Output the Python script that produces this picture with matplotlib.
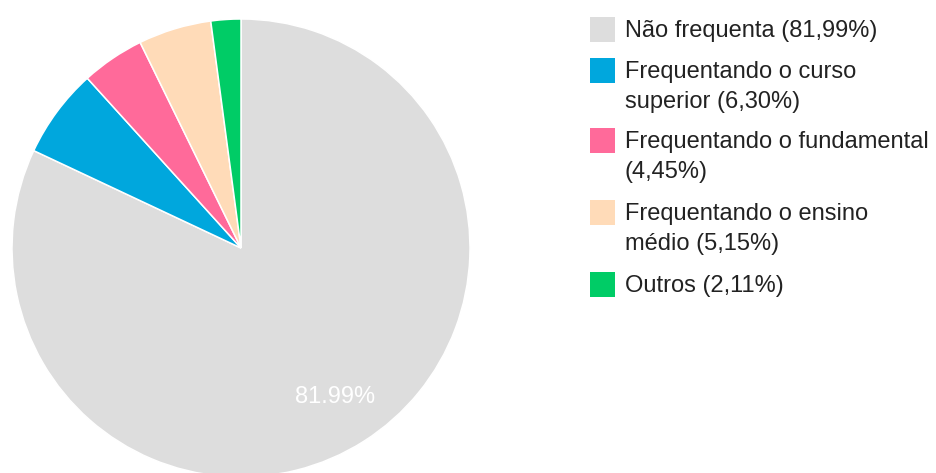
import matplotlib.pyplot as plt
from matplotlib.patches import Rectangle

plt.rcParams['font.family'] = ['Liberation Sans', 'DejaVu Sans']

categories = ['Não frequenta', 'Frequentando o curso superior', 'Frequentando o fundamental',
              'Frequentando o ensino médio', 'Outros']
values = [81.99, 6.30, 4.45, 5.15, 2.11]
legend_lines = [['Não frequenta (81,99%)'],
                ['Frequentando o curso', 'superior (6,30%)'],
                ['Frequentando o fundamental', '(4,45%)'],
                ['Frequentando o ensino', 'médio (5,15%)'],
                ['Outros (2,11%)']]
colors = ['#dddddd', '#00a7dd', '#ff6a9a', '#ffdbb8', '#00cc66']

W, H = 936, 473
fig = plt.figure(figsize=(W / 100, H / 100), dpi=100)

# pie centre at (241, 248) px, radius 229 px
cx, cy, r = 241, 248, 229
ax = fig.add_axes([(cx - r) / W, (H - cy - r) / H, 2 * r / W, 2 * r / H])

def pct(p):
    return '%.2f%%' % p if p > 20 else ''

wedges, texts, autotexts = ax.pie(values, colors=colors, startangle=90, counterclock=False,
                                  autopct=pct, pctdistance=0.77,
                                  wedgeprops=dict(edgecolor='white', linewidth=1.1),
                                  textprops=dict(color='white', fontsize=17))
ax.set_xlim(-1, 1)
ax.set_ylim(-1, 1)
ax.set_aspect('equal')
ax.axis('off')

# legend drawn by hand, positions in pixels
box_x, box_size, text_x = 590, 25, 625
first_baseline = [37, 78, 148, 220, 292]
for col, lines, base in zip(colors, legend_lines, first_baseline):
    fig.add_artist(Rectangle(((box_x) / W, 1 - (base + 5) / H), box_size / W, box_size / H,
                             transform=fig.transFigure, facecolor=col, edgecolor='none'))
    for i, line in enumerate(lines):
        fig.text(text_x / W, 1 - (base + 30 * i) / H, line, fontsize=17,
                 color='#222222', va='baseline', ha='left')

fig.savefig('out.png', dpi=100)
